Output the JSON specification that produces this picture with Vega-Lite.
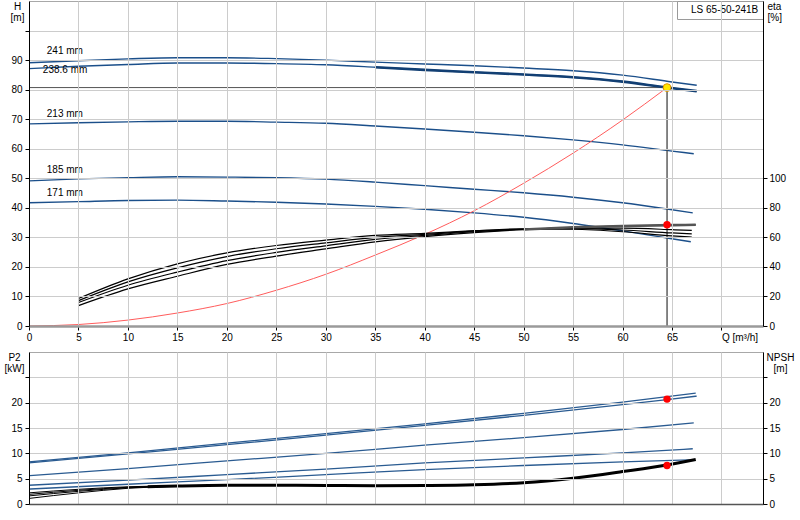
{
  "$schema": "https://vega.github.io/schema/vega-lite/v6.json",
  "background": "white",
  "padding": {"left": 3, "top": 0, "right": 0, "bottom": 0},
  "spacing": 26,
  "bounds": "flush",
  "datasets": {
    "head": [
      {"d": "241 mm", "q": 0, "h": 89.1}, {"d": "241 mm", "q": 5, "h": 89.8}, {"d": "241 mm", "q": 10, "h": 90.4},
      {"d": "241 mm", "q": 15, "h": 90.8}, {"d": "241 mm", "q": 20, "h": 90.8}, {"d": "241 mm", "q": 25, "h": 90.5},
      {"d": "241 mm", "q": 30, "h": 90.0}, {"d": "241 mm", "q": 35, "h": 89.3}, {"d": "241 mm", "q": 40, "h": 88.7},
      {"d": "241 mm", "q": 45, "h": 88.1}, {"d": "241 mm", "q": 50, "h": 87.3}, {"d": "241 mm", "q": 55, "h": 86.4},
      {"d": "241 mm", "q": 60, "h": 84.9}, {"d": "241 mm", "q": 65, "h": 82.6}, {"d": "241 mm", "q": 67.5, "h": 81.5},
      {"d": "238.6 mm", "q": 0, "h": 87.1}, {"d": "238.6 mm", "q": 5, "h": 87.9}, {"d": "238.6 mm", "q": 10, "h": 88.5},
      {"d": "238.6 mm", "q": 15, "h": 89.0}, {"d": "238.6 mm", "q": 20, "h": 89.0}, {"d": "238.6 mm", "q": 25, "h": 88.8},
      {"d": "238.6 mm", "q": 30, "h": 88.4}, {"d": "238.6 mm", "q": 35, "h": 87.6}, {"d": "238.6 mm", "q": 40, "h": 86.7},
      {"d": "238.6 mm", "q": 45, "h": 85.9}, {"d": "238.6 mm", "q": 50, "h": 85.1}, {"d": "238.6 mm", "q": 55, "h": 84.2},
      {"d": "238.6 mm", "q": 60, "h": 82.7}, {"d": "238.6 mm", "q": 64.5, "h": 80.7}, {"d": "238.6 mm", "q": 67.5, "h": 79.5},
      {"d": "213 mm", "q": 0, "h": 68.4}, {"d": "213 mm", "q": 5, "h": 68.8}, {"d": "213 mm", "q": 10, "h": 69.1},
      {"d": "213 mm", "q": 15, "h": 69.3}, {"d": "213 mm", "q": 20, "h": 69.3}, {"d": "213 mm", "q": 25, "h": 69.0},
      {"d": "213 mm", "q": 30, "h": 68.6}, {"d": "213 mm", "q": 35, "h": 67.7}, {"d": "213 mm", "q": 40, "h": 66.7},
      {"d": "213 mm", "q": 45, "h": 65.6}, {"d": "213 mm", "q": 50, "h": 64.4}, {"d": "213 mm", "q": 55, "h": 63.0},
      {"d": "213 mm", "q": 60, "h": 61.3}, {"d": "213 mm", "q": 65, "h": 59.2}, {"d": "213 mm", "q": 67.2, "h": 58.3},
      {"d": "185 mm", "q": 0, "h": 49.1}, {"d": "185 mm", "q": 5, "h": 49.8}, {"d": "185 mm", "q": 10, "h": 50.2},
      {"d": "185 mm", "q": 15, "h": 50.5}, {"d": "185 mm", "q": 20, "h": 50.4}, {"d": "185 mm", "q": 25, "h": 50.2},
      {"d": "185 mm", "q": 30, "h": 49.7}, {"d": "185 mm", "q": 35, "h": 48.7}, {"d": "185 mm", "q": 40, "h": 47.5},
      {"d": "185 mm", "q": 45, "h": 46.3}, {"d": "185 mm", "q": 50, "h": 45.1}, {"d": "185 mm", "q": 55, "h": 43.6},
      {"d": "185 mm", "q": 60, "h": 41.7}, {"d": "185 mm", "q": 64.5, "h": 39.6}, {"d": "185 mm", "q": 67.1, "h": 38.3},
      {"d": "171 mm", "q": 0, "h": 41.7}, {"d": "171 mm", "q": 5, "h": 42.1}, {"d": "171 mm", "q": 10, "h": 42.5},
      {"d": "171 mm", "q": 15, "h": 42.6}, {"d": "171 mm", "q": 20, "h": 42.3}, {"d": "171 mm", "q": 25, "h": 41.9},
      {"d": "171 mm", "q": 30, "h": 41.3}, {"d": "171 mm", "q": 35, "h": 40.5}, {"d": "171 mm", "q": 40, "h": 39.5},
      {"d": "171 mm", "q": 45, "h": 38.3}, {"d": "171 mm", "q": 50, "h": 36.8}, {"d": "171 mm", "q": 55, "h": 34.7},
      {"d": "171 mm", "q": 60, "h": 32.2}, {"d": "171 mm", "q": 64.5, "h": 29.8}, {"d": "171 mm", "q": 66.9, "h": 28.5}
    ],
    "labels": [
      {"d": "241 mm", "q": 1.8, "h": 93.1},
      {"d": "238.6 mm", "q": 1.4, "h": 86.5},
      {"d": "213 mm", "q": 1.8, "h": 71.7},
      {"d": "185 mm", "q": 1.8, "h": 52.7},
      {"d": "171 mm", "q": 1.8, "h": 44.9}
    ],
    "system": [
      {"q": 0, "h": 0}, {"q": 5, "h": 0.5}, {"q": 10, "h": 2.0}, {"q": 15, "h": 4.4}, {"q": 20, "h": 7.6},
      {"q": 25, "h": 12.1}, {"q": 30, "h": 17.5}, {"q": 35, "h": 24.0}, {"q": 40, "h": 31.0}, {"q": 45, "h": 39.0},
      {"q": 50, "h": 48.3}, {"q": 55, "h": 58.5}, {"q": 60, "h": 69.7}, {"q": 64.5, "h": 80.7}
    ],
    "eta": [
      {"c": "e1", "q": 5, "eta": 13.8}, {"c": "e1", "q": 10, "eta": 25.1}, {"c": "e1", "q": 15, "eta": 33.7},
      {"c": "e1", "q": 20, "eta": 41.7}, {"c": "e1", "q": 25, "eta": 47.3}, {"c": "e1", "q": 30, "eta": 52.2},
      {"c": "e1", "q": 35, "eta": 57.0}, {"c": "e1", "q": 40, "eta": 60.5}, {"c": "e1", "q": 45, "eta": 63.2},
      {"c": "e1", "q": 50, "eta": 65.3}, {"c": "e1", "q": 55, "eta": 66.8}, {"c": "e1", "q": 60, "eta": 67.7},
      {"c": "e1", "q": 65, "eta": 68.3}, {"c": "e1", "q": 67.4, "eta": 68.5},
      {"c": "e2", "q": 5, "eta": 15.9}, {"c": "e2", "q": 10, "eta": 27.6}, {"c": "e2", "q": 15, "eta": 36.5},
      {"c": "e2", "q": 20, "eta": 44.3}, {"c": "e2", "q": 25, "eta": 49.8}, {"c": "e2", "q": 30, "eta": 54.3},
      {"c": "e2", "q": 35, "eta": 58.6}, {"c": "e2", "q": 40, "eta": 61.3}, {"c": "e2", "q": 45, "eta": 63.8},
      {"c": "e2", "q": 50, "eta": 65.5}, {"c": "e2", "q": 55, "eta": 66.3}, {"c": "e2", "q": 60, "eta": 66.2},
      {"c": "e2", "q": 65, "eta": 65.2}, {"c": "e2", "q": 67, "eta": 64.7},
      {"c": "e3", "q": 5, "eta": 17.2}, {"c": "e3", "q": 10, "eta": 29.9}, {"c": "e3", "q": 15, "eta": 39.4},
      {"c": "e3", "q": 20, "eta": 47.0}, {"c": "e3", "q": 25, "eta": 52.3}, {"c": "e3", "q": 30, "eta": 56.3},
      {"c": "e3", "q": 35, "eta": 60.0}, {"c": "e3", "q": 40, "eta": 62.0}, {"c": "e3", "q": 45, "eta": 64.2},
      {"c": "e3", "q": 50, "eta": 65.6}, {"c": "e3", "q": 55, "eta": 65.9}, {"c": "e3", "q": 60, "eta": 65.0},
      {"c": "e3", "q": 65, "eta": 63.0}, {"c": "e3", "q": 67, "eta": 62.4},
      {"c": "e4", "q": 5, "eta": 18.6}, {"c": "e4", "q": 10, "eta": 31.9}, {"c": "e4", "q": 15, "eta": 42.1},
      {"c": "e4", "q": 20, "eta": 49.5}, {"c": "e4", "q": 25, "eta": 54.5}, {"c": "e4", "q": 30, "eta": 58.1},
      {"c": "e4", "q": 35, "eta": 61.3}, {"c": "e4", "q": 40, "eta": 62.7}, {"c": "e4", "q": 45, "eta": 64.5},
      {"c": "e4", "q": 50, "eta": 65.8}, {"c": "e4", "q": 55, "eta": 65.5}, {"c": "e4", "q": 60, "eta": 63.8},
      {"c": "e4", "q": 65, "eta": 61.0}, {"c": "e4", "q": 67, "eta": 60.2}
    ],
    "p2": [
      {"d": "241 mm", "q": 0, "p2": 8.3}, {"d": "241 mm", "q": 10, "p2": 10.1}, {"d": "241 mm", "q": 20, "p2": 12.0},
      {"d": "241 mm", "q": 30, "p2": 13.9}, {"d": "241 mm", "q": 40, "p2": 15.8}, {"d": "241 mm", "q": 50, "p2": 17.9},
      {"d": "241 mm", "q": 60, "p2": 20.1}, {"d": "241 mm", "q": 67.4, "p2": 21.9},
      {"d": "238.6 mm", "q": 0, "p2": 8.1}, {"d": "238.6 mm", "q": 10, "p2": 9.9}, {"d": "238.6 mm", "q": 20, "p2": 11.7},
      {"d": "238.6 mm", "q": 30, "p2": 13.6}, {"d": "238.6 mm", "q": 40, "p2": 15.5}, {"d": "238.6 mm", "q": 50, "p2": 17.5},
      {"d": "238.6 mm", "q": 60, "p2": 19.6}, {"d": "238.6 mm", "q": 64.5, "p2": 20.6}, {"d": "238.6 mm", "q": 67.5, "p2": 21.3},
      {"d": "213 mm", "q": 0, "p2": 5.6}, {"d": "213 mm", "q": 10, "p2": 7.0}, {"d": "213 mm", "q": 20, "p2": 8.5},
      {"d": "213 mm", "q": 30, "p2": 10.0}, {"d": "213 mm", "q": 40, "p2": 11.6}, {"d": "213 mm", "q": 50, "p2": 13.1},
      {"d": "213 mm", "q": 60, "p2": 14.7}, {"d": "213 mm", "q": 67.2, "p2": 16.0},
      {"d": "185 mm", "q": 0, "p2": 3.7}, {"d": "185 mm", "q": 10, "p2": 4.7}, {"d": "185 mm", "q": 20, "p2": 5.8},
      {"d": "185 mm", "q": 30, "p2": 6.9}, {"d": "185 mm", "q": 40, "p2": 8.1}, {"d": "185 mm", "q": 50, "p2": 9.1},
      {"d": "185 mm", "q": 60, "p2": 10.1}, {"d": "185 mm", "q": 67.1, "p2": 10.9},
      {"d": "171 mm", "q": 0, "p2": 2.95}, {"d": "171 mm", "q": 10, "p2": 3.9}, {"d": "171 mm", "q": 20, "p2": 4.8},
      {"d": "171 mm", "q": 30, "p2": 5.8}, {"d": "171 mm", "q": 40, "p2": 6.8}, {"d": "171 mm", "q": 50, "p2": 7.6},
      {"d": "171 mm", "q": 60, "p2": 8.3}, {"d": "171 mm", "q": 66.9, "p2": 8.7}
    ],
    "npsh": [
      {"c": "n1", "q": 0, "npsh": 2.2}, {"c": "n1", "q": 5, "npsh": 2.9}, {"c": "n1", "q": 10, "npsh": 3.4}, {"c": "n1", "q": 15, "npsh": 3.6}, {"c": "n1", "q": 20, "npsh": 3.7},
      {"c": "n2", "q": 0, "npsh": 1.9}, {"c": "n2", "q": 5, "npsh": 2.7}, {"c": "n2", "q": 10, "npsh": 3.3}, {"c": "n2", "q": 15, "npsh": 3.6}, {"c": "n2", "q": 20, "npsh": 3.7},
      {"c": "n3", "q": 0, "npsh": 1.6}, {"c": "n3", "q": 5, "npsh": 2.5}, {"c": "n3", "q": 10, "npsh": 3.2}, {"c": "n3", "q": 15, "npsh": 3.5}, {"c": "n3", "q": 20, "npsh": 3.7},
      {"c": "n4", "q": 0, "npsh": 1.1}, {"c": "n4", "q": 5, "npsh": 2.2}, {"c": "n4", "q": 10, "npsh": 3.1}, {"c": "n4", "q": 15, "npsh": 3.5}, {"c": "n4", "q": 20, "npsh": 3.7},
      {"c": "main", "q": 12, "npsh": 3.4}, {"c": "main", "q": 15, "npsh": 3.55}, {"c": "main", "q": 20, "npsh": 3.7},
      {"c": "main", "q": 25, "npsh": 3.7}, {"c": "main", "q": 30, "npsh": 3.65}, {"c": "main", "q": 35, "npsh": 3.6},
      {"c": "main", "q": 40, "npsh": 3.65}, {"c": "main", "q": 45, "npsh": 3.8}, {"c": "main", "q": 50, "npsh": 4.2},
      {"c": "main", "q": 55, "npsh": 5.1}, {"c": "main", "q": 60, "npsh": 6.4}, {"c": "main", "q": 64.5, "npsh": 7.7},
      {"c": "main", "q": 67.4, "npsh": 8.8}
    ],
    "duty": [
      {"q": 64.5, "h": 80.7, "eta": 68.5, "p2": 20.7, "npsh": 7.6}
    ]
  },
  "vconcat": [
    {
      "width": 734,
      "height": 325,
      "encoding": {
        "x": {
          "field": "q", "type": "quantitative",
          "scale": {"domain": [0, 74.2], "nice": false, "zero": false},
          "axis": {
            "values": [0, 5, 10, 15, 20, 25, 30, 35, 40, 45, 50, 55, 60, 65, 70],
            "labelExpr": "datum.value == 70 ? 'Q [m³/h]' : datum.label",
            "labelAlign": {"condition": {"test": "datum.value == 70", "value": "left"}, "value": "center"},
            "labelOverlap": false, "labelFlush": false,
            "labelFont": "Liberation Sans", "labelFontSize": 10, "labelColor": "#000000", "labelPadding": 2,
            "title": null, "grid": true, "gridColor": "#cccccc", "gridWidth": 1, "zindex": 1,
            "tickColor": "#000000", "tickSize": 4, "domainColor": "#9a9a9a", "domainWidth": 2.5
          }
        }
      },
      "layer": [
        {
          "data": {"name": "head"},
          "mark": {"type": "line", "interpolate": "monotone", "color": "#1b4f8a", "strokeWidth": 1.4},
          "encoding": {
            "detail": {"field": "d"},
            "y": {
              "field": "h", "type": "quantitative",
              "scale": {"domain": [0, 110], "nice": false, "zero": false},
              "axis": {
                "orient": "left",
                "values": [0, 10, 20, 30, 40, 50, 60, 70, 80, 90, 100],
                "labelExpr": "datum.value > 90 ? '' : datum.label",
                "labelFont": "Liberation Sans", "labelFontSize": 10, "labelColor": "#000000", "labelPadding": 3,
                "title": ["H", "[m]"], "titleFont": "Liberation Sans", "titleFontSize": 10, "titleFontWeight": "normal", "titleColor": "#000000",
                "titleAngle": 0, "titleAlign": "center", "titleBaseline": "top", "titleX": -12, "titleY": 0, "titleLineHeight": 11,
                "grid": true, "gridColor": "#cccccc", "gridWidth": 1, "zindex": 1,
                "tickColor": "#000000", "tickSize": 4, "domainColor": "#000000"
              }
            }
          }
        },
        {
          "data": {"name": "duty"},
          "mark": {"type": "rule", "color": "#555555", "strokeWidth": 1},
          "encoding": {
            "x": {"datum": 0, "type": "quantitative"}, "x2": {"field": "q"},
            "y": {"field": "h", "type": "quantitative", "scale": {"domain": [0, 110], "nice": false, "zero": false}, "axis": null}
          }
        },
        {
          "data": {"name": "duty"},
          "mark": {"type": "rule", "color": "#444444", "strokeWidth": 1.3},
          "encoding": {
            "y": {"field": "h", "type": "quantitative", "scale": {"domain": [0, 110], "nice": false, "zero": false}, "axis": null},
            "y2": {"datum": 0}
          }
        },
        {
          "data": {"name": "head"},
          "transform": [{"filter": "datum.d == '238.6 mm' && datum.q >= 35"}],
          "mark": {"type": "line", "interpolate": "monotone", "color": "#123f73", "strokeWidth": 2.6},
          "encoding": {"y": {"field": "h", "type": "quantitative", "scale": {"domain": [0, 110], "nice": false, "zero": false}, "axis": null}}
        },
        {
          "data": {"name": "system"},
          "mark": {"type": "line", "interpolate": "monotone", "color": "#ff5c5c", "strokeWidth": 1},
          "encoding": {"y": {"field": "h", "type": "quantitative", "scale": {"domain": [0, 110], "nice": false, "zero": false}, "axis": null}}
        },
        {
          "data": {"name": "labels"},
          "mark": {"type": "text", "align": "left", "baseline": "middle", "font": "Liberation Sans", "fontSize": 10, "color": "#000000"},
          "encoding": {
            "text": {"field": "d"},
            "y": {"field": "h", "type": "quantitative", "scale": {"domain": [0, 110], "nice": false, "zero": false}, "axis": null}
          }
        },
        {
          "data": {"name": "eta"},
          "mark": {"type": "line", "interpolate": "monotone", "color": "#000000", "strokeWidth": 1.2},
          "encoding": {
            "detail": {"field": "c"},
            "y": {
              "field": "eta", "type": "quantitative",
              "scale": {"domain": [0, 220], "nice": false, "zero": false},
              "axis": {
                "orient": "right", "values": [0, 20, 40, 60, 80, 100],
                "labelFont": "Liberation Sans", "labelFontSize": 10, "labelColor": "#000000", "labelPadding": 2,
                "title": ["eta", "[%]"], "titleFont": "Liberation Sans", "titleFontSize": 10, "titleFontWeight": "normal", "titleColor": "#000000",
                "titleAngle": 0, "titleAlign": "left", "titleBaseline": "top", "titleX": 4, "titleY": 0, "titleLineHeight": 11,
                "grid": false, "zindex": 1, "tickColor": "#000000", "tickSize": 4, "domainColor": "#000000"
              }
            }
          }
        },
        {
          "data": {"name": "eta"},
          "transform": [{"filter": "datum.c == 'e1' && datum.q >= 50"}],
          "mark": {"type": "line", "interpolate": "monotone", "color": "#555555", "strokeWidth": 2.6},
          "encoding": {"y": {"field": "eta", "type": "quantitative", "scale": {"domain": [0, 220], "nice": false, "zero": false}, "axis": null}}
        },
        {
          "data": {"name": "duty"},
          "mark": {"type": "point", "filled": true, "size": 55, "color": "#ff0000", "opacity": 1},
          "encoding": {"y": {"field": "eta", "type": "quantitative", "scale": {"domain": [0, 220], "nice": false, "zero": false}, "axis": null}}
        },
        {
          "data": {"name": "duty"},
          "mark": {"type": "point", "filled": true, "size": 60, "fill": "#ffe800", "stroke": "#e09000", "strokeWidth": 1, "opacity": 1},
          "encoding": {"y": {"field": "h", "type": "quantitative", "scale": {"domain": [0, 110], "nice": false, "zero": false}, "axis": null}}
        },
        {
          "data": {"name": "duty"},
          "mark": {"type": "point", "size": 1, "opacity": 0},
          "encoding": {
            "y": {"field": "h", "type": "quantitative", "scale": {"domain": [0, 110], "nice": false, "zero": false}, "axis": null},
            "color": {
              "datum": "LS 65-50-241B",
              "scale": {"range": ["#ffffff"]},
              "legend": {
                "title": null, "orient": "top-right", "offset": 0, "padding": 4,
                "strokeColor": "#9a9a9a", "fillColor": "#ffffff", "cornerRadius": 0,
                "symbolOpacity": 0, "symbolSize": 1, "symbolStrokeWidth": 0, "labelOffset": 0,
                "labelFontSize": 10, "labelColor": "#000000", "labelFont": "Liberation Sans"
              }
            }
          }
        }
      ],
      "resolve": {"scale": {"y": "independent"}}
    },
    {
      "width": 734,
      "height": 152,
      "encoding": {
        "x": {
          "field": "q", "type": "quantitative",
          "scale": {"domain": [0, 74.2], "nice": false, "zero": false},
          "axis": {
            "values": [0, 5, 10, 15, 20, 25, 30, 35, 40, 45, 50, 55, 60, 65, 70],
            "labels": false, "ticks": false, "title": null,
            "grid": true, "gridColor": "#cccccc", "gridWidth": 1, "zindex": 1,
            "domainColor": "#555555", "domainWidth": 1.5
          }
        }
      },
      "layer": [
        {
          "data": {"name": "p2"},
          "mark": {"type": "line", "interpolate": "monotone", "color": "#2a5b91", "strokeWidth": 1.3},
          "encoding": {
            "detail": {"field": "d"},
            "y": {
              "field": "p2", "type": "quantitative",
              "scale": {"domain": [0, 30], "nice": false, "zero": false},
              "axis": {
                "orient": "left", "values": [0, 5, 10, 15, 20, 25],
                "labelExpr": "datum.value > 20 ? '' : datum.label",
                "labelFont": "Liberation Sans", "labelFontSize": 10, "labelColor": "#000000", "labelPadding": 3,
                "title": ["P2", "[kW]"], "titleFont": "Liberation Sans", "titleFontSize": 10, "titleFontWeight": "normal", "titleColor": "#000000",
                "titleAngle": 0, "titleAlign": "center", "titleBaseline": "top", "titleX": -15, "titleY": 0, "titleLineHeight": 11,
                "grid": true, "gridColor": "#cccccc", "gridWidth": 1, "zindex": 1,
                "tickColor": "#000000", "tickSize": 4, "domainColor": "#000000"
              }
            }
          }
        },
        {
          "data": {"name": "duty"},
          "mark": {"type": "point", "filled": true, "size": 55, "color": "#ff0000", "opacity": 1},
          "encoding": {"y": {"field": "p2", "type": "quantitative", "scale": {"domain": [0, 30], "nice": false, "zero": false}, "axis": null}}
        },
        {
          "data": {"name": "npsh"},
          "transform": [{"filter": "datum.c != 'main'"}],
          "mark": {"type": "line", "interpolate": "monotone", "color": "#000000", "strokeWidth": 1},
          "encoding": {
            "detail": {"field": "c"},
            "y": {
              "field": "npsh", "type": "quantitative",
              "scale": {"domain": [0, 30], "nice": false, "zero": false},
              "axis": {
                "orient": "right", "values": [0, 5, 10, 15, 20, 25],
                "labelExpr": "datum.value > 20 ? '' : datum.label",
                "labelFont": "Liberation Sans", "labelFontSize": 10, "labelColor": "#000000", "labelPadding": 2,
                "title": ["NPSH", "[m]"], "titleFont": "Liberation Sans", "titleFontSize": 10, "titleFontWeight": "normal", "titleColor": "#000000",
                "titleAngle": 0, "titleAlign": "center", "titleBaseline": "top", "titleX": 17, "titleY": 0, "titleLineHeight": 11,
                "grid": false, "zindex": 1, "tickColor": "#000000", "tickSize": 4, "domainColor": "#000000"
              }
            }
          }
        },
        {
          "data": {"name": "npsh"},
          "transform": [{"filter": "datum.c == 'main'"}],
          "mark": {"type": "line", "interpolate": "monotone", "color": "#000000", "strokeWidth": 3},
          "encoding": {"y": {"field": "npsh", "type": "quantitative", "scale": {"domain": [0, 30], "nice": false, "zero": false}, "axis": null}}
        },
        {
          "data": {"name": "duty"},
          "mark": {"type": "point", "filled": true, "size": 55, "color": "#ff0000", "opacity": 1},
          "encoding": {"y": {"field": "npsh", "type": "quantitative", "scale": {"domain": [0, 30], "nice": false, "zero": false}, "axis": null}}
        }
      ],
      "resolve": {"scale": {"y": "independent"}}
    }
  ],
  "resolve": {"scale": {"color": "independent"}, "legend": {"color": "independent"}},
  "config": {
    "view": {"stroke": "#a8a8a8", "strokeWidth": 1},
    "font": "Liberation Sans"
  }
}
